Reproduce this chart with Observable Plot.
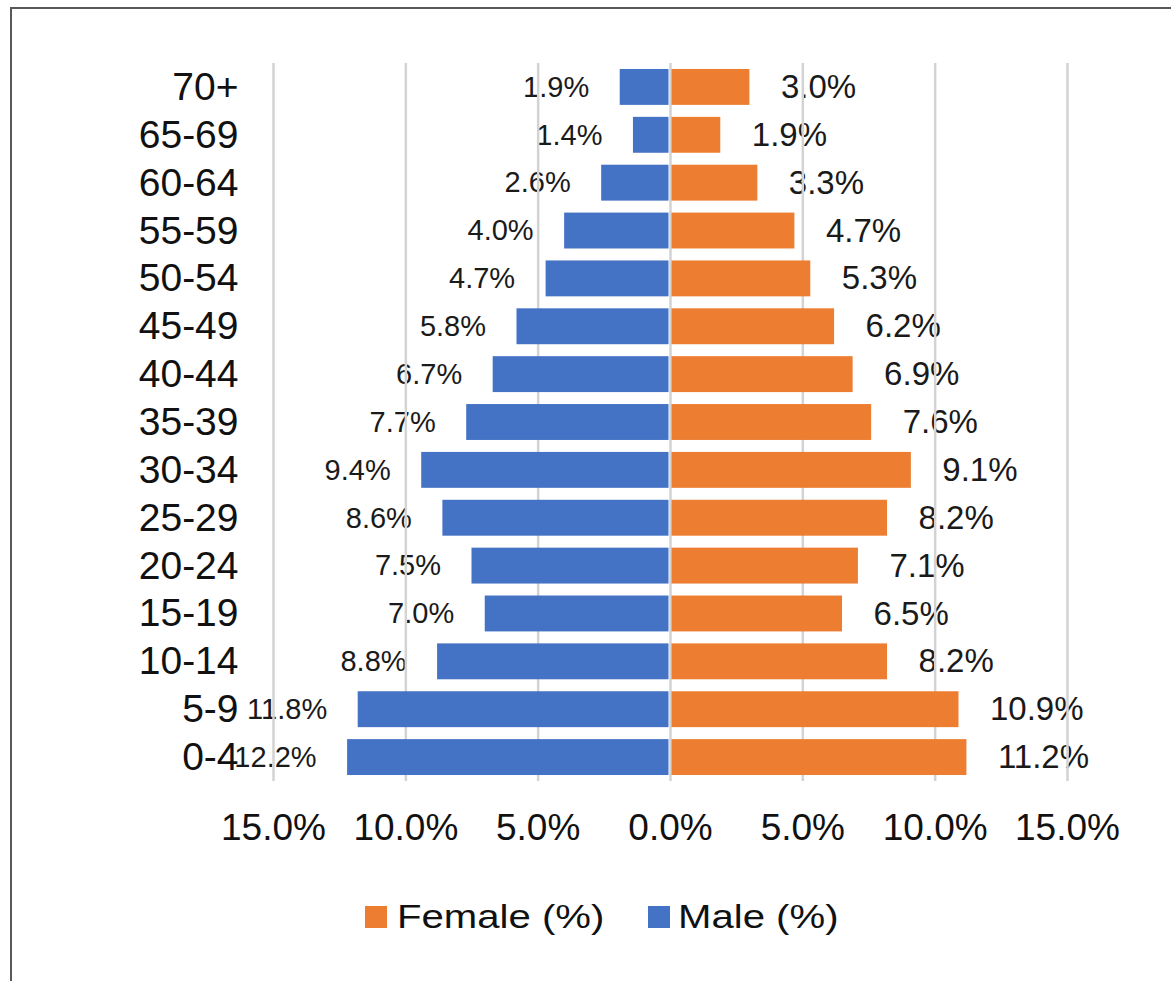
<!DOCTYPE html>
<html>
<head>
<meta charset="utf-8">
<script src="https://cdn.jsdelivr.net/npm/d3@7"></script>
<script src="https://cdn.jsdelivr.net/npm/@observablehq/plot@0.6"></script>
<style>
  html, body { margin: 0; padding: 0; background: #fff; }
  #wrap { position: relative; width: 1171px; height: 981px; overflow: hidden; font-family: "Liberation Sans", Arial, sans-serif; }
  #frame { position: absolute; left: 10px; top: 7px; width: 1300px; height: 1100px; border: 2px solid #595959; box-sizing: border-box; }
  #chart { position: absolute; left: 0; top: 0; }
  #legend { position: absolute; top: 0; left: 0; width: 1171px; height: 981px; pointer-events: none; }
  .sw { position: absolute; width: 22px; height: 22px; top: 906px; }
  .lt { position: absolute; top: 896px; font-size: 34px; line-height: 40px; color: #111; white-space: nowrap; transform: scaleX(1.18); transform-origin: left center; }
</style>
</head>
<body>
<div id="wrap">
  <div id="frame"></div>
  <div id="chart"></div>
  <div id="legend"></div>
</div>
<script>
const ages = ["70+", "65-69", "60-64", "55-59", "50-54", "45-49", "40-44", "35-39", "30-34", "25-29", "20-24", "15-19", "10-14", "5-9", "0-4"];
const male = [1.9, 1.4, 2.6, 4.0, 4.7, 5.8, 6.7, 7.7, 9.4, 8.6, 7.5, 7.0, 8.8, 11.8, 12.2];
const female = [3.0, 1.9, 3.3, 4.7, 5.3, 6.2, 6.9, 7.6, 9.1, 8.2, 7.1, 6.5, 8.2, 10.9, 11.2];
const xTicks = [-15, -10, -5, 0, 5, 10, 15];
const seriesNames = ["Female (%)", "Male (%)"];
const colors = { male: "#4472C4", female: "#ED7D31" };

const maleData = ages.map((a, i) => ({ age: a, value: -male[i], raw: male[i] }));
const femaleData = ages.map((a, i) => ({ age: a, value: female[i], raw: female[i] }));
const fmt = d => Math.abs(d).toFixed(1) + "%";

const chart = Plot.plot({
  width: 1171,
  height: 870,
  marginLeft: 273,
  marginRight: 104,
  marginTop: 63,
  marginBottom: 89,
  style: { fontFamily: "Liberation Sans, Arial, sans-serif", background: "transparent", color: "#111" },
  x: { domain: [-15, 15], label: null },
  y: { domain: ages, paddingInner: 0.25, paddingOuter: 0.125, round: false, label: null },
  marks: [
    Plot.axisX({ ticks: xTicks, tickFormat: fmt, tickSize: 0, tickPadding: 32, fontSize: 37, label: null }),
    Plot.axisY({ tickSize: 0, tickPadding: 35, fontSize: 39, label: null }),
    Plot.text(maleData, { x: "value", y: "age", text: d => d.raw.toFixed(1) + "%", dx: -31, textAnchor: "end", fontSize: 29, fill: "#1a1a1a" }),
    Plot.text(femaleData, { x: "value", y: "age", text: d => d.raw.toFixed(1) + "%", dx: 31, textAnchor: "start", fontSize: 33, fill: "#1a1a1a" }),
    Plot.gridX({ ticks: xTicks, stroke: "#d3d3d3", strokeOpacity: 1, strokeWidth: 2.5 }),
    Plot.barX(maleData, { x1: "value", x2: 0, y: "age", fill: colors.male, insetRight: 1.5 }),
    Plot.barX(femaleData, { x1: 0, x2: "value", y: "age", fill: colors.female, insetLeft: 1.5 })
  ]
});
document.getElementById("chart").appendChild(chart);

const legend = document.getElementById("legend");
const legendItems = [
  { name: seriesNames[0], color: colors.female, sw: 365, tx: 397 },
  { name: seriesNames[1], color: colors.male, sw: 648, tx: 678 }
];
legendItems.forEach(it => {
  const sw = document.createElement("div");
  sw.className = "sw";
  sw.style.left = it.sw + "px";
  sw.style.background = it.color;
  const t = document.createElement("div");
  t.className = "lt";
  t.style.left = it.tx + "px";
  t.textContent = it.name;
  legend.appendChild(sw);
  legend.appendChild(t);
});
</script>
</body>
</html>
